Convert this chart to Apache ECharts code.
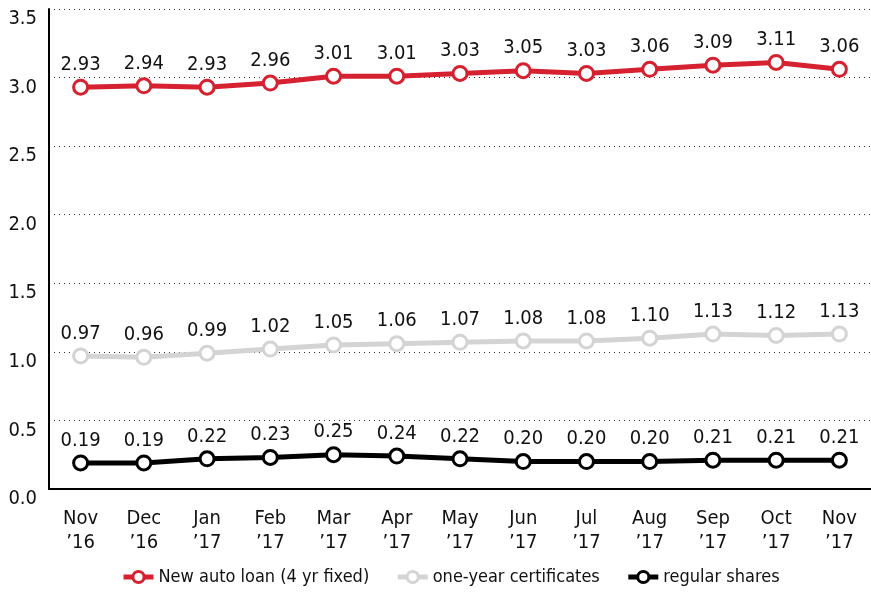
<!DOCTYPE html>
<html><head><meta charset="utf-8">
<script src="https://cdn.jsdelivr.net/npm/echarts@6/dist/echarts.min.js"></script>
<style>html,body{margin:0;padding:0;background:#fff}#c{width:871px;height:596px}</style>
</head><body><div id="c"></div>
<script>
const categories = ['Nov\n\u201916','Dec\n\u201916','Jan\n\u201917','Feb\n\u201917','Mar\n\u201917','Apr\n\u201917','May\n\u201917','Jun\n\u201917','Jul\n\u201917','Aug\n\u201917','Sep\n\u201917','Oct\n\u201917','Nov\n\u201917'];
const autoLoan = [2.93,2.94,2.93,2.96,3.01,3.01,3.03,3.05,3.03,3.06,3.09,3.11,3.06];
const certificates = [0.97,0.96,0.99,1.02,1.05,1.06,1.07,1.08,1.08,1.10,1.13,1.12,1.13];
const shares = [0.19,0.19,0.22,0.23,0.25,0.24,0.22,0.20,0.20,0.20,0.21,0.21,0.21];
const seriesNames = ['New auto loan (4 yr fixed)','one-year certificates','regular shares'];
const yTicks = {min:0, max:3.5, interval:0.5};

const FONT = "'DejaVu Sans Condensed','Liberation Sans Narrow',sans-serif";
function mk(name, data, color){
  return {
    name, type:'line', data,
    symbol:'circle', symbolSize:14,
    lineStyle:{color, width:5},
    itemStyle:{color:'#fff', borderColor:color, borderWidth:3},
    label:{show:true, position:'top', distance:4, color:'#111', fontSize:20, fontFamily:FONT,
      formatter:p=>p.value.toFixed(2)},
    emphasis:{disabled:true}, animation:false
  };
}
const chart = echarts.init(document.getElementById('c'));
chart.setOption({
  animation:false,
  textStyle:{fontFamily:FONT},
  grid:{left:49, top:9, width:829, height:480},
  legend:{bottom:5, left:116, itemWidth:30, itemHeight:14, itemGap:26,
    lineStyle:{width:5}, itemStyle:{borderWidth:3},
    textStyle:{fontSize:18, color:'#111', fontFamily:FONT},
    data:seriesNames},
  xAxis:{type:'category', data:categories, boundaryGap:true,
    axisLine:{lineStyle:{color:'#000', width:2}}, axisTick:{show:false},
    axisLabel:{color:'#111', fontSize:20, fontFamily:FONT, margin:18, lineHeight:24}},
  yAxis:{type:'value', min:yTicks.min, max:yTicks.max, interval:yTicks.interval,
    axisLine:{show:true, lineStyle:{color:'#000', width:2}}, axisTick:{show:false},
    axisLabel:{color:'#111', fontSize:20, fontFamily:FONT, margin:12, verticalAlign:'top', formatter:v=>v.toFixed(1)},
    splitLine:{show:true, lineStyle:{color:'#333', type:[1,4], width:1}}},
  series:[
    mk(seriesNames[0], autoLoan, '#d52130'),
    mk(seriesNames[1], certificates, '#d4d4d4'),
    mk(seriesNames[2], shares, '#000')
  ]
});
</script></body></html>
